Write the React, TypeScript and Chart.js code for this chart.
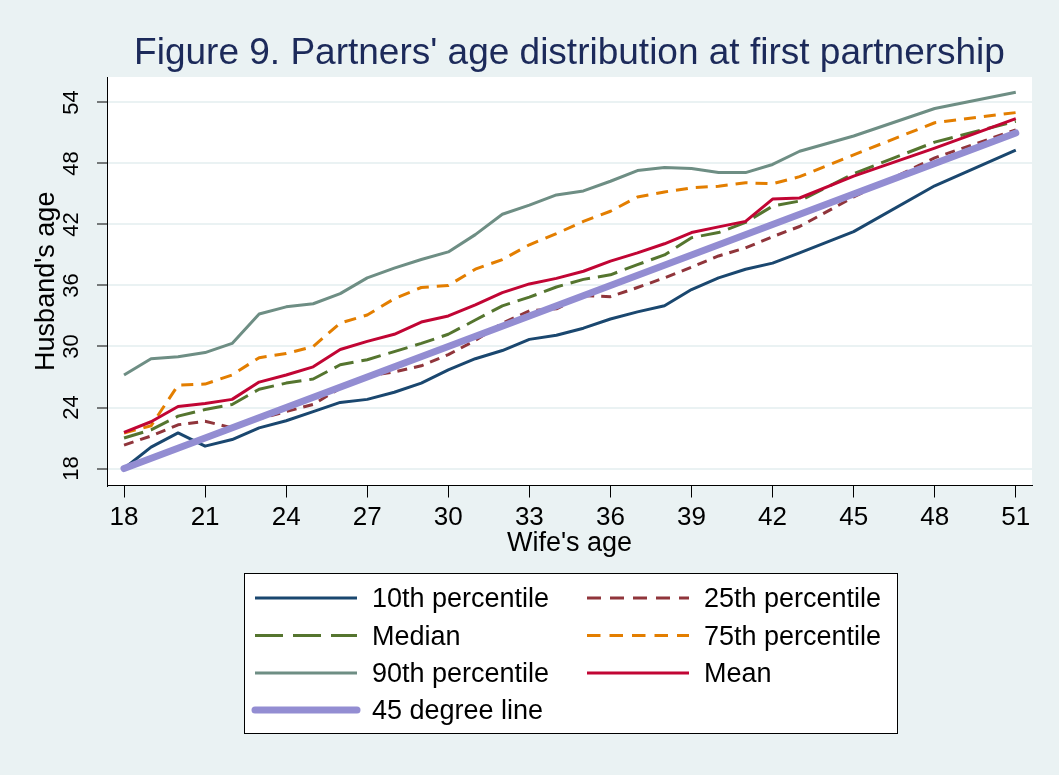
import React, { useEffect, useRef } from 'react';
import { Chart, registerables } from 'chart.js';

Chart.register(...registerables);

// Wife's age (x) at which the distribution of husband's age is reported
const wifeAge = [18, 19, 20, 21, 22, 23, 24, 25, 26, 27, 28, 29, 30, 31, 32, 33, 34, 35, 36, 37, 38, 39, 40, 41, 42, 43, 45, 48, 51];

const p10 = [18.0, 20.1, 21.5, 20.2, 20.85, 22.0, 22.7, 23.6, 24.5, 24.8, 25.5, 26.4, 27.7, 28.8, 29.6, 30.7, 31.1, 31.8, 32.7, 33.4, 34.0, 35.6, 36.75, 37.6, 38.2, 39.2, 41.3, 45.8, 49.3];
const p25 = [20.3, 21.2, 22.3, 22.65, 22.0, 22.9, 23.6, 24.3, 25.9, 27.1, 27.5, 28.1, 29.2, 30.6, 32.3, 33.5, 33.7, 35.0, 34.9, 35.8, 36.75, 37.8, 38.9, 39.7, 40.8, 41.8, 44.7, 48.55, 51.3];
const median = [21.0, 21.8, 23.15, 23.8, 24.3, 25.8, 26.4, 26.8, 28.2, 28.7, 29.5, 30.3, 31.2, 32.6, 34.0, 34.85, 35.85, 36.6, 37.05, 38.05, 39.0, 40.7, 41.2, 42.2, 43.8, 44.3, 47.0, 50.1, 52.15];
const p75 = [21.5, 22.2, 26.2, 26.3, 27.2, 28.9, 29.3, 30.0, 32.3, 33.1, 34.7, 35.8, 36.0, 37.6, 38.55, 40.0, 41.1, 42.3, 43.3, 44.7, 45.2, 45.6, 45.76, 46.1, 46.0, 46.7, 48.85, 52.0, 53.0];
const p90 = [27.2, 28.8, 29.0, 29.4, 30.3, 33.2, 33.9, 34.2, 35.2, 36.75, 37.7, 38.55, 39.3, 41.0, 43.0, 43.9, 44.9, 45.3, 46.25, 47.3, 47.6, 47.5, 47.1, 47.1, 47.9, 49.2, 50.7, 53.4, 55.0];
const mean = [21.55, 22.6, 24.1, 24.4, 24.8, 26.5, 27.2, 28.0, 29.7, 30.5, 31.2, 32.4, 33.0, 34.1, 35.3, 36.15, 36.7, 37.4, 38.4, 39.2, 40.1, 41.2, 41.76, 42.3, 44.5, 44.6, 46.75, 49.5, 52.4];

// 45 degree reference line (husband's age = wife's age)
const diagAge = [18, 51];

const xTicks = [18, 21, 24, 27, 30, 33, 36, 39, 42, 45, 48, 51];
const yTicks = [18, 24, 30, 36, 42, 48, 54];

const seriesLabels = ['10th percentile', '25th percentile', 'Median', '75th percentile', '90th percentile', 'Mean', '45 degree line'];

const FONT = "'Liberation Sans', Arial, Helvetica, sans-serif";
const BG = '#EAF2F3';

const toPoints = (xs: number[], ys: number[]) => xs.map((x, i) => ({ x, y: ys[i] }));

const bgPlugin = {
  id: 'bgPlugin',
  beforeDraw(chart: any) {
    const { ctx, width, height, chartArea } = chart;
    ctx.save();
    ctx.fillStyle = BG;
    ctx.fillRect(0, 0, width, height);
    ctx.fillStyle = '#ffffff';
    ctx.fillRect(chartArea.left, chartArea.top, chartArea.right - chartArea.left, chartArea.bottom - chartArea.top);
    ctx.restore();
  },
};

const yLabelPlugin = {
  id: 'yLabelPlugin',
  afterDraw(chart: any) {
    const { ctx } = chart;
    const scale = chart.scales.y;
    ctx.save();
    ctx.fillStyle = '#000';
    ctx.font = `22px ${FONT}`;
    ctx.textAlign = 'center';
    ctx.textBaseline = 'middle';
    yTicks.forEach((v) => {
      const py = scale.getPixelForValue(v);
      ctx.save();
      ctx.translate(72, py);
      ctx.rotate(-Math.PI / 2);
      ctx.fillText(String(v), 0, 0);
      ctx.restore();
    });
    ctx.restore();
  },
};

const legendPlugin = {
  id: 'customLegend',
  afterDraw(chart: any) {
    const { ctx } = chart;
    const boxL = 244, boxT = 573, boxR = 898, boxB = 734;
    ctx.save();
    ctx.fillStyle = '#ffffff';
    ctx.fillRect(boxL, boxT, boxR - boxL, boxB - boxT);
    ctx.strokeStyle = '#000';
    ctx.lineWidth = 1;
    ctx.strokeRect(boxL + 0.5, boxT + 0.5, boxR - boxL - 1, boxB - boxT - 1);
    const colLine = [255, 587];
    const lineLen = 102;
    const colText = [372, 704];
    const rowY = [598, 635.5, 673, 710];
    ctx.font = `27px ${FONT}`;
    ctx.textBaseline = 'middle';
    ctx.textAlign = 'left';
    chart.data.datasets.forEach((ds: any, i: number) => {
      const r = Math.floor(i / 2);
      const c = i % 2;
      const y = rowY[r];
      ctx.save();
      ctx.strokeStyle = ds.borderColor;
      ctx.lineWidth = ds.legendWidth || ds.borderWidth;
      ctx.lineCap = ds.legendCap || 'butt';
      ctx.setLineDash(ds.legendDash || []);
      ctx.beginPath();
      ctx.moveTo(colLine[c], y);
      ctx.lineTo(colLine[c] + lineLen, y);
      ctx.stroke();
      ctx.restore();
      ctx.fillStyle = '#000';
      ctx.fillText(ds.label, colText[c], y + 2);
    });
    ctx.restore();
  },
};

export default function App() {
  const canvasRef = useRef<HTMLCanvasElement | null>(null);

  useEffect(() => {
    document.body.style.margin = '0';
    document.body.style.background = BG;
    const canvas = canvasRef.current;
    if (!canvas) return;

    const mk = (label: string, data: any[], color: string, width: number, dash: number[], legendDash: number[], order: number, extra: any = {}) => ({
      label,
      data,
      borderColor: color,
      backgroundColor: color,
      borderWidth: width,
      borderDash: dash,
      legendDash,
      pointRadius: 0,
      pointHoverRadius: 0,
      tension: 0,
      fill: false,
      borderCapStyle: 'butt',
      borderJoinStyle: 'round',
      order,
      ...extra,
    });

    const chart = new Chart(canvas, {
      type: 'line',
      data: {
        datasets: [
          mk(seriesLabels[0], toPoints(wifeAge, p10), '#1A476F', 3, [], [], 7),
          mk(seriesLabels[1], toPoints(wifeAge, p25), '#90353B', 3, [10, 7], [14, 9], 6),
          mk(seriesLabels[2], toPoints(wifeAge, median), '#55752F', 3, [20, 8], [28, 10], 5),
          mk(seriesLabels[3], toPoints(wifeAge, p75), '#E37E00', 3, [12, 8], [13.5, 9], 4),
          mk(seriesLabels[4], toPoints(wifeAge, p90), '#6E8E84', 3, [], [], 3),
          mk(seriesLabels[5], toPoints(wifeAge, mean), '#C10534', 3, [], [], 2),
          mk(seriesLabels[6], toPoints(diagAge, diagAge), '#938DD2', 7, [], [], 1, { legendCap: 'round', legendWidth: 7, borderCapStyle: 'round' }),
        ],
      },
      options: {
        responsive: false,
        animation: false,
        events: [],
        layout: { padding: { left: 0, right: 27, top: 0, bottom: 215.5 } },
        plugins: {
          legend: { display: false },
          tooltip: { enabled: false },
          title: {
            display: true,
            fullSize: false,
            text: "Figure 9. Partners' age distribution at first partnership",
            color: '#1C2A5A',
            font: { family: FONT, size: 37, weight: 'normal', lineHeight: 1.2 },
            padding: { top: 31.8, bottom: 0.8 },
          },
        },
        scales: {
          x: {
            type: 'linear',
            min: 17.37,
            max: 51.6,
            afterBuildTicks: (s: any) => { s.ticks = xTicks.map((v) => ({ value: v })); },
            afterFit: (s: any) => { s.height = 74; },
            ticks: {
              color: '#000',
              font: { family: FONT, size: 26 },
              padding: 5,
              maxRotation: 0,
              minRotation: 0,
              autoSkip: false,
            },
            grid: { drawOnChartArea: false, drawTicks: true, tickLength: 12, tickColor: '#000', tickWidth: 1 },
            border: { display: true, color: '#000', width: 1 },
            title: {
              display: true,
              text: "Wife's age",
              color: '#000',
              font: { family: FONT, size: 27, lineHeight: 1.2 },
              padding: { top: 0, bottom: 0 },
            },
          },
          y: {
            type: 'linear',
            min: 16.33,
            max: 56.5,
            afterBuildTicks: (s: any) => { s.ticks = yTicks.map((v) => ({ value: v })); },
            afterFit: (s: any) => { s.width = 107; },
            ticks: { display: false },
            grid: { color: BG, lineWidth: 2, drawTicks: true, tickLength: 10, tickColor: '#000', tickWidth: 1 },
            border: { display: true, color: '#000', width: 1 },
            title: {
              display: true,
              text: "Husband's age",
              color: '#000',
              font: { family: FONT, size: 27, lineHeight: 1.2 },
              padding: { top: 30, bottom: 0 },
            },
          },
        },
      } as any,
      plugins: [bgPlugin, yLabelPlugin, legendPlugin],
    });

    return () => chart.destroy();
  }, []);

  return (
    <div style={{ width: 1059, height: 775 }}>
      <canvas ref={canvasRef} width={1059} height={775} style={{ display: 'block' }} />
    </div>
  );
}
